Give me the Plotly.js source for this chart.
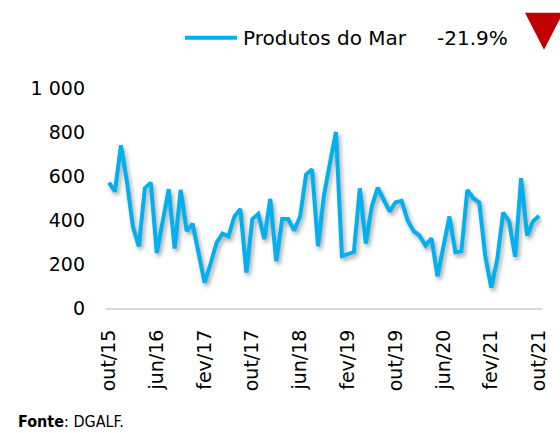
<!DOCTYPE html>
<html>
<head>
<meta charset="utf-8">
<script src="https://cdn.plot.ly/plotly-3.0.1.min.js"></script>
<style>
  html, body { margin: 0; padding: 0; background: #fff; }
  #chart { width: 560px; height: 433px; }
  .scatterlayer .trace path.js-line { filter: drop-shadow(2px 3px 2px rgba(0,0,0,0.35)); }
</style>
</head>
<body>
<div id="chart"></div>
<script>
// Monthly data, out/15 .. out/21
const months = [
  "out/15","nov/15","dez/15","jan/16","fev/16","mar/16","abr/16","mai/16","jun/16","jul/16","ago/16","set/16",
  "out/16","nov/16","dez/16","jan/17","fev/17","mar/17","abr/17","mai/17","jun/17","jul/17","ago/17","set/17",
  "out/17","nov/17","dez/17","jan/18","fev/18","mar/18","abr/18","mai/18","jun/18","jul/18","ago/18","set/18",
  "out/18","nov/18","dez/18","jan/19","fev/19","mar/19","abr/19","mai/19","jun/19","jul/19","ago/19","set/19",
  "out/19","nov/19","dez/19","jan/20","fev/20","mar/20","abr/20","mai/20","jun/20","jul/20","ago/20","set/20",
  "out/20","nov/20","dez/20","jan/21","fev/21","mar/21","abr/21","mai/21","jun/21","jul/21","ago/21","set/21",
  "out/21"
];
const produtosDoMar = [
  570, 530, 740, 575, 370, 280, 545, 570, 250, 395, 540, 270,
  537, 350, 383, 250, 115, 200, 296, 338, 326, 416, 450, 161,
  404, 428, 314, 496, 213, 404, 404, 353, 416, 607, 630, 281,
  514, 660, 800, 236, 243, 254, 544, 293, 461, 547, 492, 439,
  481, 487, 398, 349, 329, 284, 317, 145, 280, 416, 254, 258,
  537, 499, 479, 236, 93, 221, 434, 394, 233, 590, 329, 394,
  419
];
const seriesName = "Produtos do Mar";
const changeLabel = "-21.9%";
const tickLabels = ["out/15","jun/16","fev/17","out/17","jun/18","fev/19","out/19","jun/20","fev/21","out/21"];
const yTickVals = [0, 200, 400, 600, 800, 1000];
const yTickText = ["0", "200", "400", "600", "800", "1 000"];

const xIdx = months.map((_, i) => i);
const tickVals = tickLabels.map(l => months.indexOf(l));

const BLUE = "#00b0f0";
const FONT = "DejaVu Sans, sans-serif";

// plot area in pixels
const L = 106, R = 542, T = 87.5, B = 308.5;
const W = R - L, H = B - T;
const px = x => (x - L) / W;
const py = y => (B - y) / H;

const trace = {
  x: xIdx, y: produtosDoMar, type: "scatter", mode: "lines",
  name: seriesName, line: { color: BLUE, width: 4 }, showlegend: false,
  hoverinfo: "skip"
};

const layout = {
  width: 560, height: 433,
  margin: { l: L, r: 560 - R, t: T, b: 433 - B, pad: 0 },
  paper_bgcolor: "#fff", plot_bgcolor: "#fff",
  showlegend: false,
  xaxis: {
    range: [-0.5, months.length - 0.5],
    tickvals: tickVals, ticktext: tickLabels, tickangle: -90,
    showgrid: false, zeroline: false,
    showline: true, linecolor: "#d9d9d9", linewidth: 2,
    ticks: "", ticklabelstandoff: 12,
    tickfont: { family: FONT, size: 19, color: "#000" }
  },
  yaxis: {
    range: [0, 1000],
    tickvals: yTickVals, ticktext: yTickText,
    showgrid: false, zeroline: false, showline: false,
    ticks: "", ticklabelstandoff: 20,
    tickfont: { family: FONT, size: 19, color: "#000" }
  },
  shapes: [
    { type: "line", xref: "paper", yref: "paper",
      x0: px(185), x1: px(237), y0: py(37), y1: py(37),
      line: { color: BLUE, width: 4 } },
    { type: "path", xref: "paper", yref: "paper",
      path: `M ${px(525)} ${py(12)} L ${px(563)} ${py(12)} L ${px(544)} ${py(49)} Z`,
      fillcolor: "#c00000", line: { width: 0 } }
  ],
  annotations: [
    { xref: "paper", yref: "paper", x: px(241), y: py(37), xanchor: "left", yanchor: "middle",
      text: seriesName, showarrow: false, font: { family: FONT, size: 20, color: "#000" } },
    { xref: "paper", yref: "paper", x: px(435), y: py(37), xanchor: "left", yanchor: "middle",
      text: changeLabel, showarrow: false, font: { family: FONT, size: 20, color: "#000" } },
    { xref: "paper", yref: "paper", x: px(16), y: py(423), xanchor: "left", yanchor: "middle",
      text: "<b>Fonte</b>: DGALF.", showarrow: false,
      font: { family: "DejaVu Sans Condensed, Liberation Sans Narrow, sans-serif", size: 16, color: "#000" } }
  ]
};

Plotly.newPlot("chart", [trace], layout, { staticPlot: true, displayModeBar: false });
</script>
</body>
</html>
